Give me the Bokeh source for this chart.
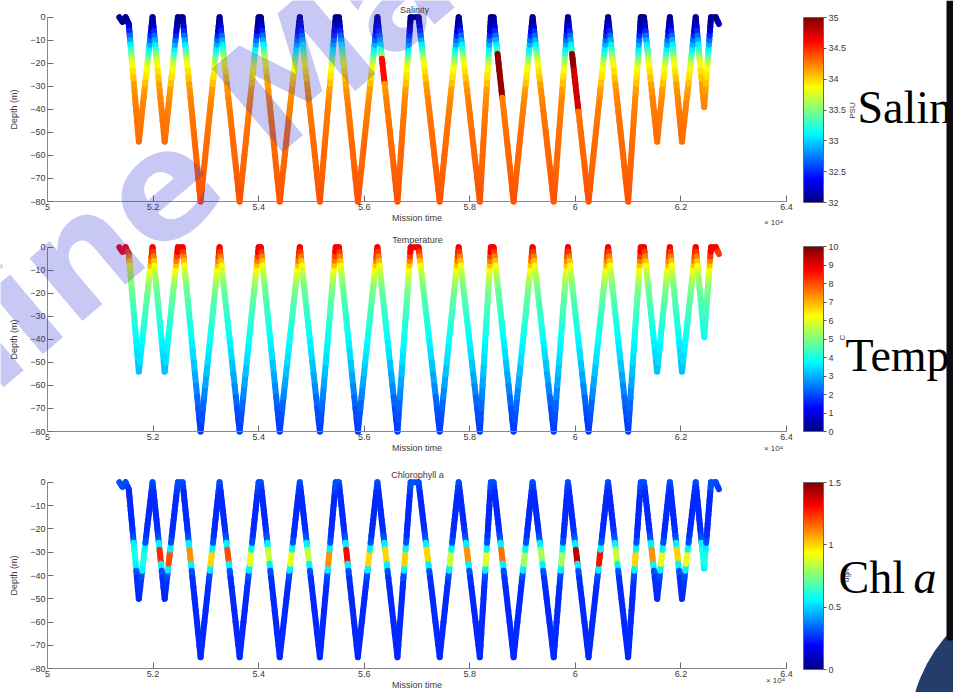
import math
from bokeh.plotting import figure
from bokeh.models import (Range1d, LinearAxis, FixedTicker, NumeralTickFormatter,
                          ColorBar, LinearColorMapper, Label, ColumnDataSource, BoxAnnotation)
from bokeh.embed import file_html
from bokeh.resources import INLINE

# ---------------- data ----------------
# glider turning points (mission time in units of 1e4 s, depth in m)
turn_time = [5.136, 5.142, 5.148, 5.154, 5.173, 5.199, 5.222, 5.247, 5.256, 5.290,
             5.326, 5.364, 5.400, 5.404, 5.440, 5.478, 5.516, 5.546, 5.552, 5.588,
             5.625, 5.663, 5.688, 5.703, 5.743, 5.779, 5.819, 5.840, 5.845, 5.883,
             5.919, 5.959, 5.986, 6.025, 6.062, 6.100, 6.124, 6.130, 6.155, 6.179,
             6.202, 6.228, 6.244, 6.257, 6.266, 6.272]
turn_depth_ctd = [0, -2, 0, -3, -54, 0, -54, 0, 0, -80, 0, -80, 0, 0, -80, 0, -80, 0, 0, -80,
                  0, -80, 0, 0, -80, 0, -80, 0, 0, -80, 0, -80, 0, -80, 0, -80, 0, 0, -54, 0,
                  -54, 0, -39, 0, 0, -3]
turn_depth_chl = [0, -2, 0, -3, -50, 0, -50, 0, 0, -75, 0, -75, 0, 0, -75, 0, -75, 0, 0, -75,
                  0, -75, 0, 0, -75, 0, -75, 0, 0, -75, 0, -75, 0, -75, 0, -75, 0, 0, -50, 0,
                  -50, 0, -37, 0, 0, -3]

# depth bands and the value seen in each band
band_edges = [0, -2, -4, -6, -8, -10, -12, -14, -16, -18, -20, -23, -26, -29, -32, -35,
              -38, -41, -45, -50, -55, -60, -65, -70, -75, -80]
salinity_band = [32.05, 32.15, 32.3, 32.5, 32.7, 32.9, 33.1, 33.3, 33.5, 33.7,
                 33.85, 33.95, 34.05, 34.15, 34.2, 34.23, 34.25, 34.27, 34.29, 34.3,
                 34.31, 34.32, 34.34, 34.36, 34.38]
temperature_band = [8.8, 8.2, 7.5, 6.8, 6.2, 5.8, 5.5, 5.2, 5.0, 4.85,
                    4.7, 4.55, 4.4, 4.25, 4.1, 3.95, 3.8, 3.65, 3.45, 3.2,
                    2.9, 2.6, 2.3, 2.05, 1.85]
chl_band = [0.3, 0.27, 0.25, 0.25, 0.25, 0.25, 0.25, 0.25, 0.25, 0.25,
            0.26, 0.3, 0.55, 0.95, 0.95, 0.55, 0.3, 0.26, 0.25, 0.25,
            0.25, 0.25, 0.25, 0.25, 0.25]
chl_peak_bands = [13, 14]
# chlorophyll maximum seen on each leg
chl_leg_peak = [0.95, 0.95, 0.95, 0.6, 0.6, 1.25, 1.2, 0.95, 1.1, 1.0,
                1.2, 0.9, 0.95, 0.85, 0.9, 0.85, 1.1, 0.95, 1.3, 1.0,
                1.0, 1.0, 0.95, 1.0, 0.85, 1.1, 0.9, 0.95, 1.15, 0.8,
                0.8, 0.8, 1.4, 1.3, 0.85, 1.0, 0.95, 1.1, 0.9, 1.0,
                0.9, 0.6, 0.6, 0.95, 0.95]
# salty intrusions: (leg, top, bottom, PSU)
salinity_patches = [(20, -18, -29, 34.6), (28, -16, -35, 34.95),
                    (32, -16, -23, 34.95), (32, -23, -41, 34.75)]

depth_ticks = [-80, -70, -60, -50, -40, -30, -20, -10, 0]
time_ticks = [5.0, 5.2, 5.4, 5.6, 5.8, 6.0, 6.2, 6.4]
sal_ticks = [32, 32.5, 33, 33.5, 34, 34.5, 35]
temp_ticks = [0, 1, 2, 3, 4, 5, 6, 7, 8, 9, 10]
chl_ticks = [0, 0.5, 1, 1.5]

# ---------------- jet colormap ----------------
JET = []
for i in range(256):
    f = i / 255.0
    r = min(max(1.5 - abs(4 * f - 3), 0), 1)
    g = min(max(1.5 - abs(4 * f - 2), 0), 1)
    b = min(max(1.5 - abs(4 * f - 1), 0), 1)
    JET.append('#%02x%02x%02x' % (int(round(r * 255)), int(round(g * 255)), int(round(b * 255))))


def band_of(d):
    for k in range(len(band_edges) - 1):
        if band_edges[k] >= d > band_edges[k + 1]:
            return k
    return len(band_edges) - 2


def build(depths, value_fn):
    x0, y0, x1, y1, v = [], [], [], [], []
    for leg in range(len(turn_time) - 1):
        ta, tb = turn_time[leg], turn_time[leg + 1]
        da, db = depths[leg], depths[leg + 1]
        lo, hi = min(da, db), max(da, db)
        cuts = sorted([e for e in band_edges if lo < e < hi], reverse=(db < da))
        ds = [da] + cuts + [db]
        for a, b in zip(ds[:-1], ds[1:]):
            if db == da:
                t0, t1 = ta, tb
            else:
                t0 = ta + (tb - ta) * (a - da) / (db - da)
                t1 = ta + (tb - ta) * (b - da) / (db - da)
            mid = (a + b) / 2.0
            x0.append(t0); y0.append(a); x1.append(t1); y1.append(b)
            v.append(value_fn(leg, band_of(mid), mid))
    return ColumnDataSource(dict(x0=x0, y0=y0, x1=x1, y1=y1, v=v))


def sal_value(leg, k, mid):
    for (lg, top, bot, val) in salinity_patches:
        if lg == leg and top >= mid > bot:
            return val
    return salinity_band[k]


def temp_value(leg, k, mid):
    return temperature_band[k]


def chl_value(leg, k, mid):
    peak = chl_leg_peak[leg]
    if k in chl_peak_bands:
        return peak
    return min(chl_band[k], peak)


# ---------------- figure geometry (page px, canvas at page origin) ----------------
W, H = 953, 692
X5, X64 = 47.0, 786.0
ppu = (X64 - X5) / 1.4
x_start = 5 - X5 / ppu
x_end = 5 + (W - X5) / ppu

FONT = "Liberation Sans"
TXT = "#3a3a3a"

p = figure(width=W, height=H, x_range=Range1d(x_start, x_end), y_range=Range1d(H, 0),
           output_backend="svg", toolbar_location=None, min_border=0,
           x_axis_location=None, y_axis_location=None, background_fill_color="white",
           border_fill_color="white")
p.grid.visible = False
p.outline_line_color = None
p.extra_x_ranges = {"px": Range1d(0, W)}

panels = [
    dict(name="sal", top=16.7, bot=201.0, title="Salinity", title_xy=(414, 9),
         src=build(turn_depth_ctd, sal_value), low=32, high=35, ticks=sal_ticks,
         unit="PSU", unit_xy=(852, 110), big="Salin", big_xy=(857, 107),
         cb_y=17, cb_h=185, x4_xy=(773, 222)),
    dict(name="temp", top=246.7, bot=431.0, title="Temperature", title_xy=(417, 239),
         src=build(turn_depth_ctd, temp_value), low=0, high=10, ticks=temp_ticks,
         unit="C", unit_xy=(842, 337), big="Temp", big_xy=(845, 355),
         cb_y=246, cb_h=185, x4_xy=(773, 448)),
    dict(name="chl", top=481.7, bot=668.3, title="Chlorophyll a", title_xy=(417, 474),
         src=build(turn_depth_chl, chl_value), low=0, high=1.5, ticks=chl_ticks,
         unit="ug/l", unit_xy=(846, 575), big="Chl", big_xy=(838, 577),
         cb_y=482, cb_h=187, x4_xy=(775, 680)),
]

for pn in panels:
    name = pn["name"]
    span = pn["bot"] - pn["top"]
    start = -(H - pn["top"]) * 80.0 / span
    end = pn["top"] * 80.0 / span
    p.extra_y_ranges[name] = Range1d(start, end)

    mapper = LinearColorMapper(palette=JET, low=pn["low"], high=pn["high"])
    p.segment(x0="x0", y0="y0", x1="x1", y1="y1", source=pn["src"],
              line_color={"field": "v", "transform": mapper}, line_width=6,
              line_cap="round", y_range_name=name)

    ya = LinearAxis(y_range_name=name, fixed_location=5.0, bounds=(-80, 0),
                    ticker=FixedTicker(ticks=depth_ticks), axis_label="Depth (m)")
    xa = LinearAxis(y_range_name=name, fixed_location=-80, bounds=(5, 6.4),
                    ticker=FixedTicker(ticks=time_ticks),
                    formatter=NumeralTickFormatter(format="0.[0]"),
                    axis_label="Mission time")
    for ax in (ya, xa):
        ax.axis_line_color = "#8a8a8a"
        ax.major_tick_line_color = "#6a6a6a"
        ax.major_tick_in = 6
        ax.major_tick_out = 0
        ax.minor_tick_line_color = None
        ax.major_label_text_font = FONT
        ax.major_label_text_font_size = "9px"
        ax.major_label_text_color = TXT
        ax.axis_label_text_font = FONT
        ax.axis_label_text_font_size = "9px"
        ax.axis_label_text_font_style = "normal"
        ax.axis_label_text_color = TXT
        ax.major_label_standoff = 2
    ya.axis_label_standoff = 8
    xa.axis_label_standoff = 0
    p.add_layout(ya, "left")
    p.add_layout(xa, "below")

    cb = ColorBar(color_mapper=mapper, location=(803, H - pn["cb_y"] - pn["cb_h"]),
                  width=20, height=pn["cb_h"], padding=0,
                  ticker=FixedTicker(ticks=pn["ticks"]),
                  formatter=NumeralTickFormatter(format="0.[0]"),
                  major_label_text_font=FONT, major_label_text_font_size="9px",
                  major_label_text_color=TXT, major_tick_in=0, major_tick_out=3,
                  major_tick_line_color="#555555", bar_line_color="#666666",
                  border_line_color=None, background_fill_alpha=0, label_standoff=2)
    p.add_layout(cb, "center")

    tx, ty = pn["title_xy"]
    p.add_layout(Label(x=tx, y=ty, x_range_name="px", text=pn["title"],
                       text_font=FONT, text_font_size="9px", text_color=TXT,
                       text_align="center", text_baseline="middle"))
    qx, qy = pn["x4_xy"]
    p.add_layout(Label(x=qx, y=qy, x_range_name="px", text="× 10⁴",
                       text_font=FONT, text_font_size="8px", text_color=TXT,
                       text_align="center", text_baseline="middle"))
    ux, uy = pn["unit_xy"]
    p.add_layout(Label(x=ux, y=uy, x_range_name="px", text=pn["unit"], angle=math.pi / 2,
                       text_font=FONT, text_font_size="8px", text_color=TXT,
                       text_align="center", text_baseline="middle"))
    bx, by = pn["big_xy"]
    p.add_layout(Label(x=bx, y=by, x_range_name="px", text=pn["big"],
                       text_font="Liberation Serif", text_font_size="46px",
                       text_color="black", text_align="left", text_baseline="alphabetic"))

p.add_layout(Label(x=913, y=577, x_range_name="px", text="a",
                   text_font="Liberation Serif", text_font_size="46px",
                   text_font_style="italic", text_color="black",
                   text_align="left", text_baseline="alphabetic"))

# faint watermark
p.add_layout(Label(x=-40, y=355, x_range_name="px", text="line Ma", angle=0.70,
                   text_font="DejaVu Sans", text_font_style="bold",
                   text_font_size="150px", text_color="#3434d8", text_alpha=0.27,
                   text_align="left", text_baseline="alphabetic"))

# slide decoration: dark right edge and navy disc in the lower right corner
p.add_layout(BoxAnnotation(left=946, right=953, top=0, bottom=640, x_range_name="px",
                           fill_color="#0b0b10", fill_alpha=1, line_color=None))
p.scatter(x=[1064], y=[737], size=312, x_range_name="px", fill_color="#243e6c",
          line_color=None)

open("out.html", "w").write(file_html(p, INLINE))
